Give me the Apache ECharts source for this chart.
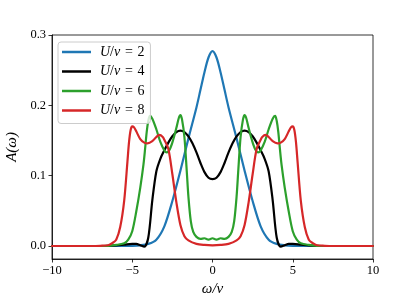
<!DOCTYPE html>
<html>
<head>
<meta charset="utf-8">
<script src="https://cdn.jsdelivr.net/npm/echarts@6/dist/echarts.min.js"></script>
<style>html,body{margin:0;padding:0;background:#fff}#c{width:415px;height:297px}</style>
</head>
<body>
<div id="c"></div>
<script>
var seriesNames = ['U/v = 2', 'U/v = 4', 'U/v = 6', 'U/v = 8'];
var xTicks = [-10, -5, 0, 5, 10];
var yTicks = [0, 0.1, 0.2, 0.3];

var omegaBlue = [-10,-6,-5,-4.5,-4,-3.5,-3,-2.5,-2,-1.5,-1,-0.75,-0.5,-0.25,0,0.25,0.5,0.75,1,1.5,2,2.5,3,3.5,4,4.5,5,6,10];
var valBlue   = [0,0,0.0003,0.001,0.003,0.009,0.028,0.064,0.107,0.153,0.197,0.222,0.247,0.268,0.277,0.268,0.247,0.222,0.197,0.153,0.107,0.064,0.028,0.009,0.003,0.001,0.0003,0,0];

var omegaBlack = [-10,-7,-6.5,-6,-5.5,-5,-4.75,-4.5,-4.25,-4,-3.75,-3.5,-3.25,-3,-2.75,-2.5,-2.25,-2,-1.75,-1.5,-1.25,-1,-0.75,-0.5,-0.25,0,0.25,0.5,0.75,1,1.25,1.5,1.75,2,2.25,2.5,2.75,3,3.25,3.5,3.75,4,4.25,4.5,4.75,5,5.5,6,6.5,7,10];
var valBlack   = [0,0,0.0003,0.001,0.002,0.003,0.003,0.001,-0.001,0.012,0.065,0.106,0.124,0.136,0.147,0.156,0.162,0.164,0.162,0.156,0.146,0.133,0.118,0.105,0.097,0.095,0.097,0.105,0.118,0.133,0.146,0.156,0.162,0.164,0.162,0.156,0.147,0.136,0.124,0.106,0.065,0.012,-0.001,0.001,0.003,0.003,0.002,0.001,0.0003,0,0];

var omegaGreen = [-10,-7,-6.5,-6,-5.5,-5.25,-5,-4.75,-4.5,-4.3,-4.2,-4.1,-4,-3.9,-3.75,-3.5,-3.25,-3,-2.85,-2.65,-2.45,-2.25,-2.1,-2,-1.9,-1.75,-1.6,-1.5,-1.35,-1.2,-1,-0.75,-0.5,-0.25,0,0.25,0.5,0.75,1,1.2,1.35,1.5,1.6,1.75,1.9,2,2.1,2.25,2.45,2.65,2.85,3,3.25,3.5,3.75,3.9,4,4.1,4.2,4.3,4.5,4.75,5,5.25,5.5,6,6.5,7,10];
var valGreen   = [0,0,0.0003,0.0015,0.004,0.009,0.021,0.049,0.083,0.116,0.138,0.162,0.178,0.185,0.181,0.166,0.148,0.136,0.133,0.138,0.151,0.168,0.182,0.186,0.18,0.155,0.105,0.07,0.035,0.02,0.013,0.01,0.011,0.009,0.011,0.009,0.011,0.01,0.013,0.02,0.035,0.07,0.105,0.155,0.18,0.186,0.182,0.168,0.151,0.138,0.133,0.136,0.148,0.166,0.181,0.185,0.178,0.162,0.138,0.116,0.083,0.049,0.021,0.009,0.004,0.0015,0.0003,0,0];

var omegaRed = [-10,-7.5,-7,-6.5,-6.25,-6,-5.75,-5.5,-5.3,-5.2,-5.1,-5,-4.9,-4.75,-4.5,-4.25,-4.05,-3.75,-3.5,-3.3,-3.1,-3,-2.75,-2.5,-2.25,-2,-1.75,-1.5,-1,-0.5,0,0.5,1,1.5,1.75,2,2.25,2.5,2.75,3,3.1,3.3,3.5,3.75,4.05,4.25,4.5,4.75,4.9,5,5.1,5.2,5.3,5.5,5.75,6,6.25,6.5,7,7.5,10];
var valRed   = [0,0,0.0003,0.001,0.004,0.009,0.027,0.065,0.12,0.148,0.165,0.17,0.169,0.163,0.152,0.147,0.146,0.149,0.155,0.158,0.155,0.151,0.138,0.102,0.062,0.03,0.014,0.008,0.003,0.0015,0.001,0.0015,0.003,0.008,0.014,0.03,0.062,0.102,0.138,0.151,0.155,0.158,0.155,0.149,0.146,0.147,0.152,0.163,0.169,0.17,0.165,0.148,0.12,0.065,0.027,0.009,0.004,0.001,0.0003,0,0];

var colors = ['#1f77b4', '#000000', '#2ca02c', '#d62728'];
var omegas = [omegaBlue, omegaBlack, omegaGreen, omegaRed];
var vals = [valBlue, valBlack, valGreen, valRed];

function pairs(xs, ys) { var out = []; for (var i = 0; i < xs.length; i++) out.push([xs[i], ys[i]]); return out; }
var FONT = '"Liberation Serif", "DejaVu Serif", serif';
function fmt(v) { var s = (Math.abs(v) < 1e-9) ? '0' : String(v); return s.replace('-', '\u2212'); }

var series = [];
for (var k = 0; k < 4; k++) {
  series.push({
    name: seriesNames[k], type: 'line', data: pairs(omegas[k], vals[k]),
    symbol: 'none', smooth: 0.3,
    lineStyle: { color: colors[k], width: 2.2, cap: 'round', join: 'round' }, itemStyle: { color: colors[k] },
    animation: false
  });
}

var chart = echarts.init(document.getElementById('c'), null, { renderer: 'canvas' });
chart.setOption({
  backgroundColor: '#ffffff',
  animation: false,
  grid: { left: 52, right: 42, top: 35, bottom: 38, show: true, borderColor: '#000', borderWidth: 0.8, containLabel: false, outerBoundsMode: 'none' },
  xAxis: {
    type: 'value', min: -10, max: 10, interval: 5,
    name: 'ω/v', nameLocation: 'middle', nameGap: 21,
    nameTextStyle: { fontFamily: FONT, fontSize: 15, fontStyle: 'italic', color: '#000' },
    axisLine: { show: true, onZero: false, lineStyle: { color: '#000', width: 0.8 } },
    axisTick: { show: true, inside: false, length: 3.5, lineStyle: { color: '#000', width: 0.8 }, customValues: xTicks },
    axisLabel: { fontFamily: FONT, fontSize: 12.5, color: '#000', margin: 5, formatter: fmt, customValues: xTicks },
    splitLine: { show: false }
  },
  yAxis: {
    type: 'value', min: -0.0185, max: 0.3,
    name: 'A(ω)', nameLocation: 'middle', nameGap: 26, nameRotate: 90,
    nameTextStyle: { fontFamily: FONT, fontSize: 15, fontStyle: 'italic', color: '#000' },
    axisLine: { show: true, onZero: false, lineStyle: { color: '#000', width: 0.8 } },
    axisTick: { show: true, inside: false, length: 3.5, lineStyle: { color: '#000', width: 0.8 }, customValues: yTicks },
    axisLabel: { fontFamily: FONT, fontSize: 12.5, color: '#000', margin: 6, formatter: function (v) { return v.toFixed(1); }, customValues: yTicks },
    splitLine: { show: false }
  },
  legend: {
    data: seriesNames, orient: 'vertical', left: 58, top: 42,
    padding: [3, 6, 6, 4], itemGap: 5.5, itemWidth: 29, itemHeight: 2.5, icon: 'rect',
    backgroundColor: 'rgba(255,255,255,0.8)', borderColor: '#cccccc', borderWidth: 1, borderRadius: 3,
    formatter: function (name) { var n = name.split('=')[1].trim(); return '{i|U}/{i|v}\u2004=\u2004' + n; },
    textStyle: { fontFamily: FONT, fontSize: 14, color: '#000', lineHeight: 14, padding: [0, 0, 0, 4],
      rich: { i: { fontFamily: FONT, fontSize: 14, fontStyle: 'italic', color: '#000' } } }
  },
  series: series
});
</script>
</body>
</html>
